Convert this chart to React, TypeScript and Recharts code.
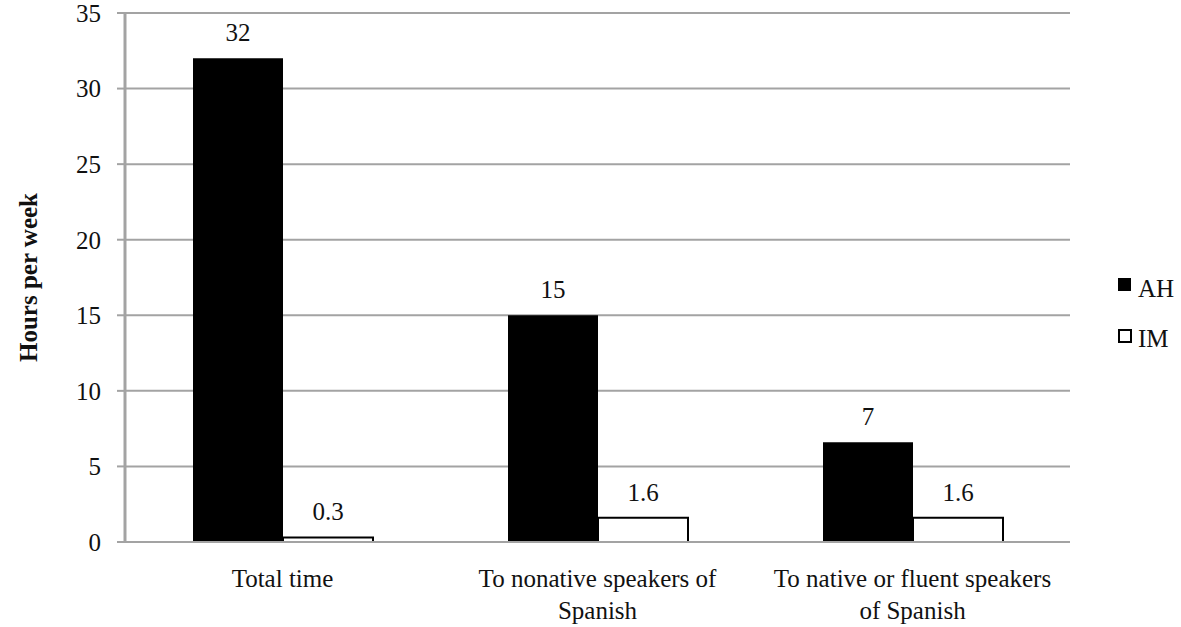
import { Bar, BarChart, CartesianGrid, LabelList, Legend, XAxis, YAxis } from 'recharts';

const categories = ['Total time', 'To nonative speakers of\nSpanish', 'To native or fluent speakers\nof Spanish'];
const ahValues = [32, 15, 6.6];
const imValues = [0.3, 1.6, 1.6];
const ahLabels = ['32', '15', '7'];
const imLabels = ['0.3', '1.6', '1.6'];
const yTicks = [0, 5, 10, 15, 20, 25, 30, 35];

const data = categories.map((name, i) => ({
  name,
  AH: ahValues[i],
  IM: imValues[i],
  ahLabel: ahLabels[i],
  imLabel: imLabels[i],
}));

const FONT = "'Liberation Serif', 'Times New Roman', Times, 'DejaVu Serif', serif";
const GRID = '#a3a3a3';

function CategoryTick(props: any) {
  const { x, y, payload } = props;
  const lines = String(payload.value).split('\n');
  return (
    <text x={x} y={y} textAnchor="middle" style={{ fontFamily: FONT }} fontSize={25} fill="#111">
      {lines.map((l, i) => (
        <tspan key={i} x={x} dy={i === 0 ? 37 : 32}>
          {l}
        </tspan>
      ))}
    </text>
  );
}

function LegendBox() {
  return (
    <svg width={64} height={90} style={{ display: 'block' }}>
      <rect x={1} y={8} width={13} height={13} fill="#000" />
      <text x={21} y={27} style={{ fontFamily: FONT }} fontSize={25} fill="#111">AH</text>
      <rect x={2} y={60} width={12} height={12} fill="#fff" stroke="#000" strokeWidth={2} />
      <text x={21} y={77} style={{ fontFamily: FONT }} fontSize={25} fill="#111">IM</text>
    </svg>
  );
}

export default function App() {
  return (
    <div style={{ position: 'absolute', left: 0, top: 0, width: 1181, height: 627, background: '#fff', fontFamily: FONT }}>
      <BarChart
        width={1181}
        height={627}
        data={data}
        margin={{ top: 13, right: 111, left: 0, bottom: 0 }}
        barGap={0}
        barSize={90}
        style={{ fontFamily: FONT }}
      >
        <CartesianGrid stroke={GRID} strokeWidth={2} vertical={false} />
        <XAxis
          dataKey="name"
          height={85}
          tick={<CategoryTick />}
          tickLine={false}
          axisLine={{ stroke: GRID, strokeWidth: 2 }}
          interval={0}
        />
        <YAxis
          width={125}
          domain={[0, 35]}
          ticks={yTicks}
          interval={0}
          tickSize={8}
          tickMargin={16}
          tickLine={{ stroke: GRID, strokeWidth: 2 }}
          axisLine={{ stroke: GRID, strokeWidth: 3 }}
          tick={{ fontSize: 25, fill: '#111', style: { fontFamily: FONT } }}
          label={{
            content: (p: any) => {
              const vb = p.viewBox || { x: 0, y: 13, width: 125, height: 529 };
              const cx = vb.x + 28;
              const cy = vb.y + vb.height / 2;
              return (
                <text
                  x={cx}
                  y={cy}
                  transform={`rotate(-90 ${cx} ${cy})`}
                  textAnchor="middle"
                  dominantBaseline="central"
                  style={{ fontFamily: FONT }}
                  fontSize={25}
                  fontWeight="bold"
                  fill="#111"
                >
                  Hours per week
                </text>
              );
            },
          }}
        />
        <Legend
          layout="vertical"
          align="center"
          verticalAlign="middle"
          content={() => <LegendBox />}
          wrapperStyle={{ left: 1117, top: 270, width: 64, height: 90 }}
        />
        <Bar dataKey="AH" fill="#000" isAnimationActive={false}>
          <LabelList dataKey="ahLabel" position="top" offset={17} fontSize={25} fill="#111" style={{ fontFamily: FONT }} />
        </Bar>
        <Bar dataKey="IM" fill="#fff" stroke="#000" strokeWidth={2} isAnimationActive={false}>
          <LabelList dataKey="imLabel" position="top" offset={17} fontSize={25} fill="#111" style={{ fontFamily: FONT }} />
        </Bar>
      </BarChart>
    </div>
  );
}
